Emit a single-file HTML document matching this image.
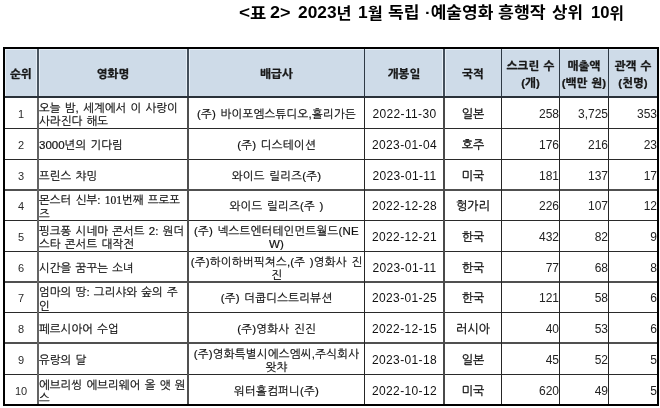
<!DOCTYPE html>
<html lang="ko"><head><meta charset="utf-8"><title>표 2</title>
<style>
html,body{margin:0;padding:0;background:#fff;}
body{width:660px;height:408px;position:relative;overflow:hidden;}
.a{position:absolute;}
.t{position:absolute;left:0;top:0;width:660px;height:24px;}
.title{position:absolute;top:2.5px;transform-origin:0 0;white-space:nowrap;font-family:"Liberation Sans", "Noto Sans CJK KR", sans-serif;font-weight:700;font-size:15.5px;line-height:20px;color:#000;}
.c{position:absolute;display:flex;align-items:center;font-family:"Liberation Sans", "NanumGothic", sans-serif;font-size:11.5px;word-spacing:1px;line-height:13.3px;color:#111;-webkit-text-stroke:0.2px #111;padding-top:3px;box-sizing:border-box;white-space:nowrap;}
.c.center{justify-content:center;text-align:center;}
.c.left{justify-content:flex-start;text-align:left;}
.c.right{justify-content:flex-end;text-align:right;}
.ld{font-size:16.5px;position:relative;top:-1px;}
.sf{font-family:"Liberation Serif",serif;}
.h{font-weight:800;font-size:11.5px;line-height:16.7px;color:#1a1a1a;padding-top:3px;font-size:11.5px;}
</style></head><body>

<div class="title" style="left:238.75px;transform:scaleX(1.145)"><span class="ld">&lt;</span>표</div>
<div class="title" style="left:270.31px;transform:scaleX(1.088)"><span class="ld">2&gt;</span></div>
<div class="title" style="left:298.05px;transform:scaleX(1.049)"><span class="ld">2023</span>년</div>
<div class="title" style="left:358.15px;transform:scaleX(1.052)"><span class="ld">1</span>월</div>
<div class="title" style="left:387.8px;transform:scaleX(1.104)">독립</div>
<div class="title" style="left:425.0px;transform:scaleX(1.1)">·예술영화</div>
<div class="title" style="left:498.19px;transform:scaleX(1.115)">흥행작</div>
<div class="title" style="left:552.12px;transform:scaleX(1.085)">상위</div>
<div class="title" style="left:590.69px;transform:scaleX(1.01)"><span class="ld">10</span>위</div>
<div class="a" style="left:5px;top:49px;width:652px;height:47px;background:#cedbe8"></div>
<div class="a" style="left:5px;top:49px;width:652px;height:1px;background:#e6eef6"></div>
<div class="a" style="left:5px;top:49px;width:1px;height:47px;background:#e6eef6"></div>
<div class="a" style="left:36px;top:50px;width:1px;height:46px;background:#e6eef6"></div>
<div class="a" style="left:39px;top:50px;width:1px;height:46px;background:#e6eef6"></div>
<div class="a" style="left:186px;top:50px;width:1px;height:46px;background:#e6eef6"></div>
<div class="a" style="left:189px;top:50px;width:1px;height:46px;background:#e6eef6"></div>
<div class="a" style="left:442px;top:50px;width:1px;height:46px;background:#e6eef6"></div>
<div class="a" style="left:445px;top:50px;width:1px;height:46px;background:#e6eef6"></div>
<div class="a" style="left:3px;top:47px;width:652px;height:355px;border:2px solid #000"></div>
<div class="a" style="left:5px;top:96px;width:652px;height:2px;background:#2a3139"></div>
<div class="a" style="left:5px;top:128px;width:652px;height:1px;background:#2a2a2a"></div>
<div class="a" style="left:5px;top:159px;width:652px;height:1px;background:#2a2a2a"></div>
<div class="a" style="left:5px;top:189px;width:652px;height:2px;background:#505050"></div>
<div class="a" style="left:5px;top:220px;width:652px;height:1px;background:#2a2a2a"></div>
<div class="a" style="left:5px;top:251px;width:652px;height:1px;background:#2a2a2a"></div>
<div class="a" style="left:5px;top:281px;width:652px;height:2px;background:#505050"></div>
<div class="a" style="left:5px;top:312px;width:652px;height:1px;background:#2a2a2a"></div>
<div class="a" style="left:5px;top:342px;width:652px;height:2px;background:#505050"></div>
<div class="a" style="left:5px;top:374px;width:652px;height:1px;background:#2a2a2a"></div>
<div class="a" style="left:37px;top:49px;width:2px;height:47px;background:#4a5560"></div>
<div class="a" style="left:37px;top:98px;width:2px;height:306px;background:#646464"></div>
<div class="a" style="left:187px;top:49px;width:2px;height:47px;background:#434e5a"></div>
<div class="a" style="left:187px;top:98px;width:2px;height:306px;background:#505050"></div>
<div class="a" style="left:364px;top:49px;width:1px;height:47px;background:#2e3945"></div>
<div class="a" style="left:364px;top:98px;width:1px;height:306px;background:#262626"></div>
<div class="a" style="left:443px;top:49px;width:2px;height:47px;background:#434e5a"></div>
<div class="a" style="left:443px;top:98px;width:2px;height:306px;background:#4a4a4a"></div>
<div class="a" style="left:501px;top:49px;width:1px;height:47px;background:#2e3945"></div>
<div class="a" style="left:501px;top:98px;width:1px;height:306px;background:#262626"></div>
<div class="a" style="left:559px;top:49px;width:1px;height:47px;background:#2e3945"></div>
<div class="a" style="left:559px;top:98px;width:1px;height:306px;background:#262626"></div>
<div class="a" style="left:608px;top:49px;width:1px;height:47px;background:#2e3945"></div>
<div class="a" style="left:608px;top:98px;width:1px;height:306px;background:#262626"></div>
<div class="c center h" style="left:5px;top:50px;width:32px;height:47px;padding-top:1px"><div>순위</div></div>
<div class="c center h" style="left:39px;top:50px;width:148px;height:47px;padding-top:1px"><div>영화명</div></div>
<div class="c center h" style="left:189px;top:50px;width:175px;height:47px;padding-top:1px"><div>배급사</div></div>
<div class="c center h" style="left:365px;top:50px;width:78px;height:47px;padding-top:1px"><div>개봉일</div></div>
<div class="c center h" style="left:445px;top:50px;width:56px;height:47px;padding-top:1px"><div>국적</div></div>
<div class="c center h" style="left:502px;top:50px;width:57px;height:47px;padding-top:3px"><div>스크린 수<br>(개)</div></div>
<div class="c center h" style="left:560px;top:50px;width:48px;height:47px;padding-top:3px"><div>매출액<br>(백만 원)</div></div>
<div class="c center h" style="left:609px;top:50px;width:48px;height:47px;padding-top:3px"><div>관객 수<br>(천명)</div></div>
<div class="c center" style="left:5px;top:98px;width:32px;height:30px;padding-top:3.00px;font-size:11px;-webkit-text-stroke:0;color:#2a2a2a;"><div>1</div></div>
<div class="c left" style="left:39px;top:98px;width:148px;height:30px;padding-top:4.20px;"><div>오늘 밤, 세계에서 이 사랑이<br>사라진다 해도</div></div>
<div class="c center" style="left:189px;top:98px;width:175px;height:30px;padding-top:3.00px;letter-spacing:0.2px;"><div>(주) 바이포엠스튜디오,홀리가든</div></div>
<div class="c center" style="left:365px;top:98px;width:78px;height:30px;padding-top:3.00px;font-size:12px;letter-spacing:0.35px;-webkit-text-stroke:0;padding-left:1px;"><div>2022-11-30</div></div>
<div class="c center" style="left:445px;top:98px;width:56px;height:30px;padding-top:3.00px;-webkit-text-stroke:0.3px #111;font-size:12px;"><div>일본</div></div>
<div class="c right" style="left:502px;top:98px;width:57px;height:30px;padding-top:3.00px;font-size:12px;-webkit-text-stroke:0;color:#222;"><div>258</div></div>
<div class="c right" style="left:560px;top:98px;width:48px;height:30px;padding-top:3.00px;font-size:12px;-webkit-text-stroke:0;color:#222;"><div>3,725</div></div>
<div class="c right" style="left:609px;top:98px;width:48px;height:30px;padding-top:3.00px;font-size:12px;-webkit-text-stroke:0;color:#222;"><div>353</div></div>
<div class="c center" style="left:5px;top:129px;width:32px;height:30px;padding-top:3.00px;font-size:11px;-webkit-text-stroke:0;color:#2a2a2a;"><div>2</div></div>
<div class="c left" style="left:39px;top:129px;width:148px;height:30px;padding-top:3.00px;"><div>3000년의 기다림</div></div>
<div class="c center" style="left:189px;top:129px;width:175px;height:30px;padding-top:3.00px;letter-spacing:0.2px;"><div>(주) 디스테이션</div></div>
<div class="c center" style="left:365px;top:129px;width:78px;height:30px;padding-top:3.00px;font-size:12px;letter-spacing:0.35px;-webkit-text-stroke:0;padding-left:1px;"><div>2023-01-04</div></div>
<div class="c center" style="left:445px;top:129px;width:56px;height:30px;padding-top:3.00px;-webkit-text-stroke:0.3px #111;font-size:12px;"><div>호주</div></div>
<div class="c right" style="left:502px;top:129px;width:57px;height:30px;padding-top:3.00px;font-size:12px;-webkit-text-stroke:0;color:#222;"><div>176</div></div>
<div class="c right" style="left:560px;top:129px;width:48px;height:30px;padding-top:3.00px;font-size:12px;-webkit-text-stroke:0;color:#222;"><div>216</div></div>
<div class="c right" style="left:609px;top:129px;width:48px;height:30px;padding-top:3.00px;font-size:12px;-webkit-text-stroke:0;color:#222;"><div>23</div></div>
<div class="c center" style="left:5px;top:160px;width:32px;height:29px;padding-top:4.00px;font-size:11px;-webkit-text-stroke:0;color:#2a2a2a;"><div>3</div></div>
<div class="c left" style="left:39px;top:160px;width:148px;height:29px;padding-top:4.00px;"><div>프린스 챠밍</div></div>
<div class="c center" style="left:189px;top:160px;width:175px;height:29px;padding-top:4.00px;letter-spacing:0.2px;"><div>와이드 릴리즈(주)</div></div>
<div class="c center" style="left:365px;top:160px;width:78px;height:29px;padding-top:4.00px;font-size:12px;letter-spacing:0.35px;-webkit-text-stroke:0;padding-left:1px;"><div>2023-01-11</div></div>
<div class="c center" style="left:445px;top:160px;width:56px;height:29px;padding-top:4.00px;-webkit-text-stroke:0.3px #111;font-size:12px;"><div>미국</div></div>
<div class="c right" style="left:502px;top:160px;width:57px;height:29px;padding-top:4.00px;font-size:12px;-webkit-text-stroke:0;color:#222;"><div>181</div></div>
<div class="c right" style="left:560px;top:160px;width:48px;height:29px;padding-top:4.00px;font-size:12px;-webkit-text-stroke:0;color:#222;"><div>137</div></div>
<div class="c right" style="left:609px;top:160px;width:48px;height:29px;padding-top:4.00px;font-size:12px;-webkit-text-stroke:0;color:#222;"><div>17</div></div>
<div class="c center" style="left:5px;top:191px;width:32px;height:29px;padding-top:3.00px;font-size:11px;-webkit-text-stroke:0;color:#2a2a2a;"><div>4</div></div>
<div class="c left" style="left:39px;top:191px;width:148px;height:29px;padding-top:4.20px;"><div>몬스터 신부: <span class="sf">101</span>번째 프로포<br>즈</div></div>
<div class="c center" style="left:189px;top:191px;width:175px;height:29px;padding-top:3.00px;letter-spacing:0.2px;"><div>와이드 릴리즈(주 )</div></div>
<div class="c center" style="left:365px;top:191px;width:78px;height:29px;padding-top:3.00px;font-size:12px;letter-spacing:0.35px;-webkit-text-stroke:0;padding-left:1px;"><div>2022-12-28</div></div>
<div class="c center" style="left:445px;top:191px;width:56px;height:29px;padding-top:3.00px;-webkit-text-stroke:0.3px #111;font-size:12px;"><div>헝가리</div></div>
<div class="c right" style="left:502px;top:191px;width:57px;height:29px;padding-top:3.00px;font-size:12px;-webkit-text-stroke:0;color:#222;"><div>226</div></div>
<div class="c right" style="left:560px;top:191px;width:48px;height:29px;padding-top:3.00px;font-size:12px;-webkit-text-stroke:0;color:#222;"><div>107</div></div>
<div class="c right" style="left:609px;top:191px;width:48px;height:29px;padding-top:3.00px;font-size:12px;-webkit-text-stroke:0;color:#222;"><div>12</div></div>
<div class="c center" style="left:5px;top:221px;width:32px;height:30px;padding-top:3.00px;font-size:11px;-webkit-text-stroke:0;color:#2a2a2a;"><div>5</div></div>
<div class="c left" style="left:39px;top:221px;width:148px;height:30px;padding-top:4.20px;"><div>핑크퐁 시네마 콘서트 2: 원더<br>스타 콘서트 대작전</div></div>
<div class="c center" style="left:189px;top:221px;width:175px;height:30px;padding-top:4.20px;letter-spacing:0.2px;"><div>(주) 넥스트엔터테인먼트월드(NE<br>W)</div></div>
<div class="c center" style="left:365px;top:221px;width:78px;height:30px;padding-top:3.00px;font-size:12px;letter-spacing:0.35px;-webkit-text-stroke:0;padding-left:1px;"><div>2022-12-21</div></div>
<div class="c center" style="left:445px;top:221px;width:56px;height:30px;padding-top:3.00px;-webkit-text-stroke:0.3px #111;font-size:12px;"><div>한국</div></div>
<div class="c right" style="left:502px;top:221px;width:57px;height:30px;padding-top:3.00px;font-size:12px;-webkit-text-stroke:0;color:#222;"><div>432</div></div>
<div class="c right" style="left:560px;top:221px;width:48px;height:30px;padding-top:3.00px;font-size:12px;-webkit-text-stroke:0;color:#222;"><div>82</div></div>
<div class="c right" style="left:609px;top:221px;width:48px;height:30px;padding-top:3.00px;font-size:12px;-webkit-text-stroke:0;color:#222;"><div>9</div></div>
<div class="c center" style="left:5px;top:252px;width:32px;height:29px;padding-top:4.00px;font-size:11px;-webkit-text-stroke:0;color:#2a2a2a;"><div>6</div></div>
<div class="c left" style="left:39px;top:252px;width:148px;height:29px;padding-top:4.00px;"><div>시간을 꿈꾸는 소녀</div></div>
<div class="c center" style="left:189px;top:252px;width:175px;height:29px;padding-top:5.20px;letter-spacing:0.2px;"><div>(주)하이하버픽쳐스,(주 )영화사 진<br>진</div></div>
<div class="c center" style="left:365px;top:252px;width:78px;height:29px;padding-top:4.00px;font-size:12px;letter-spacing:0.35px;-webkit-text-stroke:0;padding-left:1px;"><div>2023-01-11</div></div>
<div class="c center" style="left:445px;top:252px;width:56px;height:29px;padding-top:4.00px;-webkit-text-stroke:0.3px #111;font-size:12px;"><div>한국</div></div>
<div class="c right" style="left:502px;top:252px;width:57px;height:29px;padding-top:4.00px;font-size:12px;-webkit-text-stroke:0;color:#222;"><div>77</div></div>
<div class="c right" style="left:560px;top:252px;width:48px;height:29px;padding-top:4.00px;font-size:12px;-webkit-text-stroke:0;color:#222;"><div>68</div></div>
<div class="c right" style="left:609px;top:252px;width:48px;height:29px;padding-top:4.00px;font-size:12px;-webkit-text-stroke:0;color:#222;"><div>8</div></div>
<div class="c center" style="left:5px;top:283px;width:32px;height:29px;padding-top:3.00px;font-size:11px;-webkit-text-stroke:0;color:#2a2a2a;"><div>7</div></div>
<div class="c left" style="left:39px;top:283px;width:148px;height:29px;padding-top:4.20px;"><div>엄마의 땅: 그리샤와 숲의 주<br>인</div></div>
<div class="c center" style="left:189px;top:283px;width:175px;height:29px;padding-top:3.00px;letter-spacing:0.2px;"><div>(주) 더쿱디스트리뷰션</div></div>
<div class="c center" style="left:365px;top:283px;width:78px;height:29px;padding-top:3.00px;font-size:12px;letter-spacing:0.35px;-webkit-text-stroke:0;padding-left:1px;"><div>2023-01-25</div></div>
<div class="c center" style="left:445px;top:283px;width:56px;height:29px;padding-top:3.00px;-webkit-text-stroke:0.3px #111;font-size:12px;"><div>한국</div></div>
<div class="c right" style="left:502px;top:283px;width:57px;height:29px;padding-top:3.00px;font-size:12px;-webkit-text-stroke:0;color:#222;"><div>121</div></div>
<div class="c right" style="left:560px;top:283px;width:48px;height:29px;padding-top:3.00px;font-size:12px;-webkit-text-stroke:0;color:#222;"><div>58</div></div>
<div class="c right" style="left:609px;top:283px;width:48px;height:29px;padding-top:3.00px;font-size:12px;-webkit-text-stroke:0;color:#222;"><div>6</div></div>
<div class="c center" style="left:5px;top:313px;width:32px;height:29px;padding-top:4.20px;font-size:11px;-webkit-text-stroke:0;color:#2a2a2a;"><div>8</div></div>
<div class="c left" style="left:39px;top:313px;width:148px;height:29px;padding-top:4.20px;"><div>페르시아어 수업</div></div>
<div class="c center" style="left:189px;top:313px;width:175px;height:29px;padding-top:4.20px;letter-spacing:0.2px;"><div>(주)영화사 진진</div></div>
<div class="c center" style="left:365px;top:313px;width:78px;height:29px;padding-top:4.20px;font-size:12px;letter-spacing:0.35px;-webkit-text-stroke:0;padding-left:1px;"><div>2022-12-15</div></div>
<div class="c center" style="left:445px;top:313px;width:56px;height:29px;padding-top:4.20px;-webkit-text-stroke:0.3px #111;font-size:12px;"><div>러시아</div></div>
<div class="c right" style="left:502px;top:313px;width:57px;height:29px;padding-top:4.20px;font-size:12px;-webkit-text-stroke:0;color:#222;"><div>40</div></div>
<div class="c right" style="left:560px;top:313px;width:48px;height:29px;padding-top:4.20px;font-size:12px;-webkit-text-stroke:0;color:#222;"><div>53</div></div>
<div class="c right" style="left:609px;top:313px;width:48px;height:29px;padding-top:4.20px;font-size:12px;-webkit-text-stroke:0;color:#222;"><div>6</div></div>
<div class="c center" style="left:5px;top:344px;width:32px;height:30px;padding-top:3.00px;font-size:11px;-webkit-text-stroke:0;color:#2a2a2a;"><div>9</div></div>
<div class="c left" style="left:39px;top:344px;width:148px;height:30px;padding-top:3.00px;"><div>유랑의 달</div></div>
<div class="c center" style="left:189px;top:344px;width:175px;height:30px;padding-top:4.20px;letter-spacing:0.2px;"><div>(주)영화특별시에스엠씨,주식회사<br>왓챠</div></div>
<div class="c center" style="left:365px;top:344px;width:78px;height:30px;padding-top:3.00px;font-size:12px;letter-spacing:0.35px;-webkit-text-stroke:0;padding-left:1px;"><div>2023-01-18</div></div>
<div class="c center" style="left:445px;top:344px;width:56px;height:30px;padding-top:3.00px;-webkit-text-stroke:0.3px #111;font-size:12px;"><div>일본</div></div>
<div class="c right" style="left:502px;top:344px;width:57px;height:30px;padding-top:3.00px;font-size:12px;-webkit-text-stroke:0;color:#222;"><div>45</div></div>
<div class="c right" style="left:560px;top:344px;width:48px;height:30px;padding-top:3.00px;font-size:12px;-webkit-text-stroke:0;color:#222;"><div>52</div></div>
<div class="c right" style="left:609px;top:344px;width:48px;height:30px;padding-top:3.00px;font-size:12px;-webkit-text-stroke:0;color:#222;"><div>5</div></div>
<div class="c center" style="left:5px;top:375px;width:32px;height:29px;padding-top:3.70px;font-size:11px;-webkit-text-stroke:0;color:#2a2a2a;"><div>10</div></div>
<div class="c left" style="left:39px;top:375px;width:148px;height:29px;padding-top:4.90px;"><div>에브리씽 에브리웨어 올 앳 원<br>스</div></div>
<div class="c center" style="left:189px;top:375px;width:175px;height:29px;padding-top:3.70px;letter-spacing:0.2px;"><div>워터홀컴퍼니(주)</div></div>
<div class="c center" style="left:365px;top:375px;width:78px;height:29px;padding-top:3.70px;font-size:12px;letter-spacing:0.35px;-webkit-text-stroke:0;padding-left:1px;"><div>2022-10-12</div></div>
<div class="c center" style="left:445px;top:375px;width:56px;height:29px;padding-top:3.70px;-webkit-text-stroke:0.3px #111;font-size:12px;"><div>미국</div></div>
<div class="c right" style="left:502px;top:375px;width:57px;height:29px;padding-top:3.70px;font-size:12px;-webkit-text-stroke:0;color:#222;"><div>620</div></div>
<div class="c right" style="left:560px;top:375px;width:48px;height:29px;padding-top:3.70px;font-size:12px;-webkit-text-stroke:0;color:#222;"><div>49</div></div>
<div class="c right" style="left:609px;top:375px;width:48px;height:29px;padding-top:3.70px;font-size:12px;-webkit-text-stroke:0;color:#222;"><div>5</div></div>
</body></html>
